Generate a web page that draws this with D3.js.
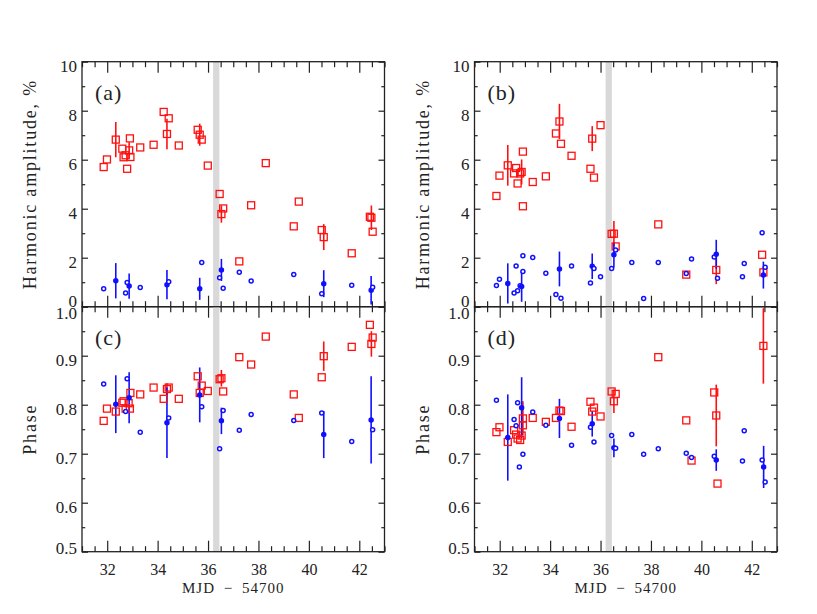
<!DOCTYPE html>
<html><head><meta charset="utf-8">
<script src="https://cdn.jsdelivr.net/npm/d3@7"></script>
<style>
body{margin:0;background:#fff;}
svg{display:block;}
text{font-family:"Liberation Serif","Times New Roman",serif;fill:#222;}
</style></head>
<body><svg id="c" width="817" height="614"></svg>
<script>
// ---- data ----
const xTicks = [32, 34, 36, 38, 40, 42];
const ampTicks = [0, 2, 4, 6, 8, 10];
const phaseTicks = [0.5, 0.6, 0.7, 0.8, 0.9, 1.0];
const panelLabels = ["(a)", "(b)", "(c)", "(d)"];
const gapBand = [36.2, 36.45];
const xTitle = "MJD \u2212 54700";
const ampTitle = "Harmonic amplitude, %";
const phaseTitle = "Phase";

// [MJD-54700, value, error]
const aRed = [[31.86,5.70,0],[31.99,6.01,0],[32.34,6.82,0.72],[32.60,6.45,0],[32.65,6.10,0],[32.73,6.18,0],[32.79,5.63,0],[32.87,6.38,0.33],[32.92,6.11,0],[32.90,6.87,0],[33.31,6.50,0],[33.84,6.61,0],[34.24,7.95,0],[34.44,7.69,0],[34.37,7.05,0.62],[34.84,6.58,0],[35.59,7.22,0],[35.67,7.02,0.45],[35.75,6.82,0],[35.99,5.76,0],[36.46,4.60,0],[36.53,3.78,0.35],[36.60,4.01,0],[37.24,1.85,0],[37.71,4.14,0],[38.29,5.86,0],[39.40,3.28,0],[39.60,4.29,0],[40.51,3.13,0],[40.59,2.84,0.53],[41.70,2.18,0],[42.42,3.67,0],[42.48,3.63,0.50],[42.53,3.06,0]];
const aBlue = [[31.86,0.73,0],[32.34,1.06,0.72],[32.73,0.56,0],[32.79,0.99,0],[32.87,0.84,0.52],[33.31,0.78,0],[34.37,0.90,0.60],[34.44,1.02,0],[35.67,0.73,0.45],[35.75,1.80,0],[36.46,1.18,0],[36.53,1.50,0.45],[36.60,0.75,0],[37.24,1.41,0],[37.71,1.05,0],[39.40,1.31,0],[40.51,0.53,0],[40.59,0.94,0.55],[41.70,0.88,0],[42.47,0.67,0.58],[42.53,0.79,0]];
const bRed = [[31.87,4.52,0],[31.99,5.35,0],[32.32,5.77,0.83],[32.57,5.44,0],[32.65,5.66,0],[32.71,5.03,0],[32.81,5.44,0],[32.87,5.50,0.51],[32.92,6.33,0],[32.92,4.10,0],[33.31,5.09,0],[33.83,5.32,0],[34.23,7.07,0],[34.37,7.56,0.72],[34.43,6.65,0],[34.85,6.16,0],[35.60,5.63,0],[35.67,6.86,0.51],[35.74,5.27,0],[36.00,7.41,0],[36.44,2.97,0],[36.53,2.98,0.52],[36.60,2.46,0],[38.29,3.36,0],[39.40,1.31,0],[40.59,1.50,0.58],[42.41,2.12,0],[42.46,1.40,0]];
const bBlue = [[31.87,0.87,0],[31.99,1.12,0],[32.32,0.95,0.82],[32.57,0.56,0],[32.65,1.66,0],[32.71,0.65,0],[32.81,0.86,0],[32.87,0.82,0.62],[32.92,1.44,0],[32.92,2.08,0],[33.31,2.01,0],[33.83,1.37,0],[34.23,0.50,0],[34.37,1.54,0.71],[34.43,0.35,0],[34.85,1.66,0],[35.60,0.97,0],[35.67,1.65,0.52],[35.74,1.56,0],[36.00,1.22,0],[36.44,1.56,0],[36.53,2.12,0.52],[36.60,2.31,0],[37.24,1.80,0],[37.71,0.33,0],[38.29,1.80,0],[39.40,1.36,0],[39.61,1.95,0],[40.51,2.03,0],[40.59,2.14,0.59],[40.64,1.16,0],[41.63,1.22,0],[41.70,1.76,0],[42.41,3.02,0],[42.46,1.29,0.55],[42.53,1.61,0]];
const cRed = [[31.86,0.767,0],[31.99,0.792,0],[32.34,0.786,0],[32.60,0.804,0],[32.65,0.807,0],[32.73,0.792,0],[32.85,0.803,0],[32.92,0.824,0],[32.90,0.792,0],[33.31,0.821,0],[33.84,0.835,0],[34.24,0.812,0],[34.37,0.832,0.012],[34.44,0.835,0],[34.84,0.812,0],[35.59,0.858,0],[35.67,0.824,0],[35.75,0.839,0],[35.99,0.828,0],[36.46,0.852,0],[36.53,0.854,0.017],[36.60,0.827,0],[37.24,0.897,0],[37.71,0.882,0],[38.29,0.939,0],[39.40,0.821,0],[39.60,0.773,0],[40.51,0.856,0],[40.59,0.899,0.030],[41.70,0.918,0],[42.42,0.963,0],[42.48,0.924,0.026],[42.53,0.937,0]];
const cBlue = [[31.86,0.842,0],[32.34,0.801,0.059],[32.73,0.786,0],[32.79,0.853,0],[32.87,0.814,0.052],[33.31,0.744,0],[34.37,0.763,0.072],[34.44,0.773,0],[35.67,0.820,0.056],[35.75,0.796,0],[36.46,0.710,0],[36.53,0.767,0.027],[36.60,0.788,0],[37.24,0.748,0],[37.71,0.780,0],[39.40,0.768,0],[40.51,0.783,0],[40.59,0.739,0.048],[41.70,0.725,0],[42.47,0.769,0.089],[42.53,0.749,0]];
const dRed = [[31.87,0.744,0],[31.99,0.754,0],[32.32,0.724,0],[32.57,0.748,0],[32.65,0.739,0],[32.71,0.731,0],[32.81,0.728,0],[32.87,0.737,0],[32.92,0.772,0.035],[32.92,0.758,0],[33.31,0.773,0],[33.83,0.765,0],[34.23,0.773,0],[34.37,0.788,0],[34.43,0.787,0],[34.85,0.755,0],[35.60,0.806,0],[35.67,0.786,0],[35.74,0.794,0],[36.00,0.776,0],[36.44,0.827,0],[36.53,0.807,0.024],[36.60,0.822,0],[38.29,0.897,0],[39.40,0.768,0],[39.61,0.686,0],[40.51,0.825,0],[40.59,0.778,0.063],[40.64,0.639,0],[42.46,0.920,0.077]];
const dBlue = [[31.87,0.809,0],[32.32,0.733,0.088],[32.57,0.770,0],[32.65,0.757,0],[32.71,0.804,0],[32.78,0.673,0],[32.87,0.794,0.062],[32.92,0.699,0],[33.31,0.785,0],[33.83,0.758,0],[34.37,0.772,0.040],[34.85,0.717,0],[35.60,0.754,0],[35.67,0.761,0.026],[35.74,0.724,0],[36.44,0.737,0],[36.53,0.712,0.019],[36.60,0.711,0],[37.24,0.739,0],[37.71,0.699,0],[38.29,0.710,0],[39.40,0.701,0],[39.61,0.692,0],[40.51,0.695,0],[40.59,0.687,0.022],[41.63,0.685,0],[41.70,0.747,0],[42.41,0.687,0],[42.47,0.673,0.043],[42.53,0.642,0]];

// ---- layout ----
const svg = d3.select("#c");
const cols = [[82, 384.5], [474.5, 777]];
const rows = [[61.7, 306.7], [306.7, 551.7]];
const RED = "#ff1010", BLUE = "#1010ff", INK = "#222";
const SERIF = '"Liberation Serif","Times New Roman",serif';

const panels = [
  {col:0,row:0,red:aRed,blue:aBlue,label:panelLabels[0]},
  {col:1,row:0,red:bRed,blue:bBlue,label:panelLabels[1]},
  {col:0,row:1,red:cRed,blue:cBlue,label:panelLabels[2]},
  {col:1,row:1,red:dRed,blue:dBlue,label:panelLabels[3]}
];

panels.forEach(p => {
  const [x0, x1] = cols[p.col], [y0, y1] = rows[p.row];
  const top = p.row === 0;
  const x = d3.scaleLinear().domain([31, 43]).range([x0, x1]);
  const y = top ? d3.scaleLinear().domain([0, 10]).range([y1, y0])
                : d3.scaleLinear().domain([0.5, 1.0]).range([y1, y0]);
  const yT = top ? ampTicks : phaseTicks;
  const yMinor = top ? d3.range(1, 10, 2) : d3.range(0.55, 1.0, 0.1);
  const xMinor = d3.range(31, 43.01, 0.5).filter(v => Math.abs(v / 2 - Math.round(v / 2)) > 1e-6);
  const g = svg.append("g");

  // gap band
  g.append("rect").attr("x", x(gapBand[0])).attr("width", x(gapBand[1]) - x(gapBand[0]))
    .attr("y", y0).attr("height", y1 - y0).attr("fill", "#d9d9d9");

  // axes (inward ticks on all sides)
  const mk = (axis, tr, vals, size, fmt, pad) => {
    const a = g.append("g").attr("transform", tr)
      .call(axis.tickValues(vals).tickSize(size).tickSizeOuter(0).tickPadding(pad || 3).tickFormat(fmt));
    a.select(".domain").remove();
    a.selectAll("line").attr("stroke", INK).attr("stroke-width", 1.2);
    return a;
  };
  const none = () => "";
  const xl = mk(d3.axisBottom(x), `translate(0,${y1})`, xTicks, -11, top ? none : d3.format("d"), 12);
  xl.selectAll("text").attr("font-size", 16).attr("fill", INK).attr("font-family", SERIF);
  mk(d3.axisBottom(x), `translate(0,${y1})`, xMinor, -5.5, none);
  mk(d3.axisTop(x), `translate(0,${y0})`, xTicks, -11, none);
  mk(d3.axisTop(x), `translate(0,${y0})`, xMinor, -5.5, none);
  const yl = mk(d3.axisLeft(y), `translate(${x0},0)`, yT, -6, top ? d3.format("d") : d3.format(".1f"), 5);
  yl.selectAll("text").attr("font-size", 17).attr("fill", INK).attr("dy", "0.55em").attr("font-family", SERIF);
  if (top) yl.selectAll("text").filter(d => d === 0).attr("dy", "-0.04em");
  else {
    yl.selectAll("text").filter(d => d === 0.5).attr("dy", "0.1em");
    yl.selectAll("text").filter(d => d === 1.0).attr("dy", "0.72em");
  }
  mk(d3.axisLeft(y), `translate(${x0},0)`, yMinor, -3.2, none);
  mk(d3.axisRight(y), `translate(${x1},0)`, yT, -6, none);
  mk(d3.axisRight(y), `translate(${x1},0)`, yMinor, -3.2, none);

  // error bars
  const bars = (data, col) => g.append("g").selectAll("line").data(data.filter(d => d[2] > 0)).join("line")
    .attr("x1", d => x(d[0])).attr("x2", d => x(d[0]))
    .attr("y1", d => y(Math.max(d[1] - d[2], y.domain()[0]))).attr("y2", d => y(Math.min(d[1] + d[2], y.domain()[1])))
    .attr("stroke", col).attr("stroke-width", 1.6);
  bars(p.red, RED);
  bars(p.blue, BLUE);

  // markers
  const s = 7;
  g.append("g").selectAll("rect").data(p.red).join("rect")
    .attr("x", d => x(d[0]) - s / 2).attr("y", d => y(d[1]) - s / 2)
    .attr("width", s).attr("height", s).attr("fill", "none")
    .attr("stroke", RED).attr("stroke-width", 1.3);
  g.append("g").selectAll("circle").data(p.blue).join("circle")
    .attr("cx", d => x(d[0])).attr("cy", d => y(d[1])).attr("r", 2)
    .attr("fill", d => d[2] > 0 ? BLUE : "#fff")
    .attr("stroke", BLUE).attr("stroke-width", 1.5);

  // frame
  g.append("rect").attr("x", x0).attr("y", y0).attr("width", x1 - x0).attr("height", y1 - y0)
    .attr("fill", "none").attr("stroke", INK).attr("stroke-width", 1.3);

  // panel label
  g.append("text").attr("x", x0 + 13).attr("y", y0 + 38).attr("font-size", 22)
    .attr("letter-spacing", 1).text(p.label);

  // y title
  g.append("text").attr("transform", `translate(${x0 - 46},${(y0 + y1) / 2}) rotate(-90)`)
    .attr("text-anchor", "middle").attr("font-size", 18).attr("letter-spacing", 1.8)
    .text(top ? ampTitle : phaseTitle);

  // x title
  if (!top) g.append("text").attr("x", (x0 + x1) / 2).attr("y", 593).attr("text-anchor", "middle")
    .attr("font-family", SERIF).attr("font-size", 15).attr("letter-spacing", 1).attr("word-spacing", 4).text(xTitle);
});
</script></body></html>
